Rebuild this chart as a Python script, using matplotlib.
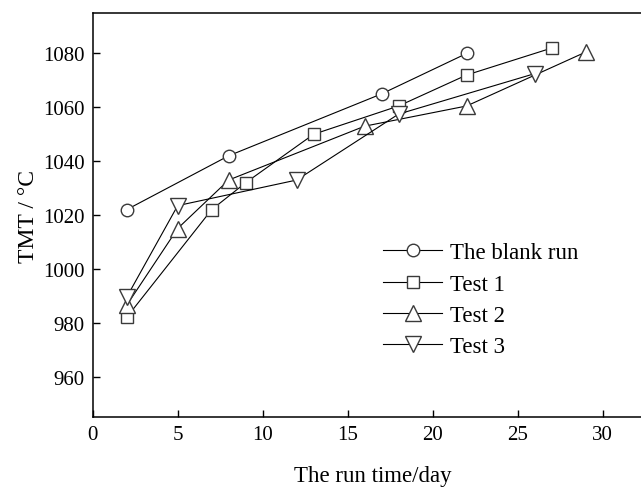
import matplotlib.pyplot as plt

plt.rcParams['font.family'] = ['Liberation Serif', 'DejaVu Serif']

# dados
blank_x = [2, 8, 17, 22]
blank_y = [1022, 1042, 1065, 1080]
test1_x = [2, 7, 9, 13, 18, 22, 27]
test1_y = [982, 1022, 1032, 1050, 1060.5, 1072, 1082]
test2_x = [2, 5, 8, 16, 22, 29]
test2_y = [986.5, 1015, 1033, 1053, 1060.5, 1080.5]
test3_x = [2, 5, 12, 18, 26]
test3_y = [989.5, 1023.5, 1033, 1057.5, 1072.5]

fig = plt.figure(figsize=(6.41, 4.89), dpi=100)
ax = fig.add_axes([0.1446, 0.1452, 0.875, 0.826])

estilo = dict(color='black', lw=0.8, markerfacecolor='white',
              markeredgecolor='#3a3a3a', markeredgewidth=1.0)
ax.plot(blank_x, blank_y, marker='o', markersize=9, label='The blank run', **estilo)
ax.plot(test1_x, test1_y, marker='s', markersize=9, label='Test 1', **estilo)
ax.plot(test2_x, test2_y, marker='^', markersize=11, label='Test 2', **estilo)
ax.plot(test3_x, test3_y, marker='v', markersize=11, label='Test 3', **estilo)

ax.set_xlim(0, 33)
ax.set_ylim(945, 1095)
ax.set_xticks([0, 5, 10, 15, 20, 25, 30])
ax.set_yticks([960, 980, 1000, 1020, 1040, 1060, 1080])
ax.tick_params(direction='in', length=5, width=1, labelsize=15, pad=6)
for s in ax.spines.values():
    s.set_linewidth(1.1)

ax.set_xlabel('The run time/day', fontsize=16.5, labelpad=15)
ax.set_ylabel('TMT / °C', fontsize=17, labelpad=3)

ax.legend(loc='upper left', bbox_to_anchor=(0.501, 0.455), frameon=False,
          fontsize=16.5, handlelength=2.6, handletextpad=0.35, labelspacing=0.44,
          borderaxespad=0)

fig.savefig('out.png', dpi=100)
